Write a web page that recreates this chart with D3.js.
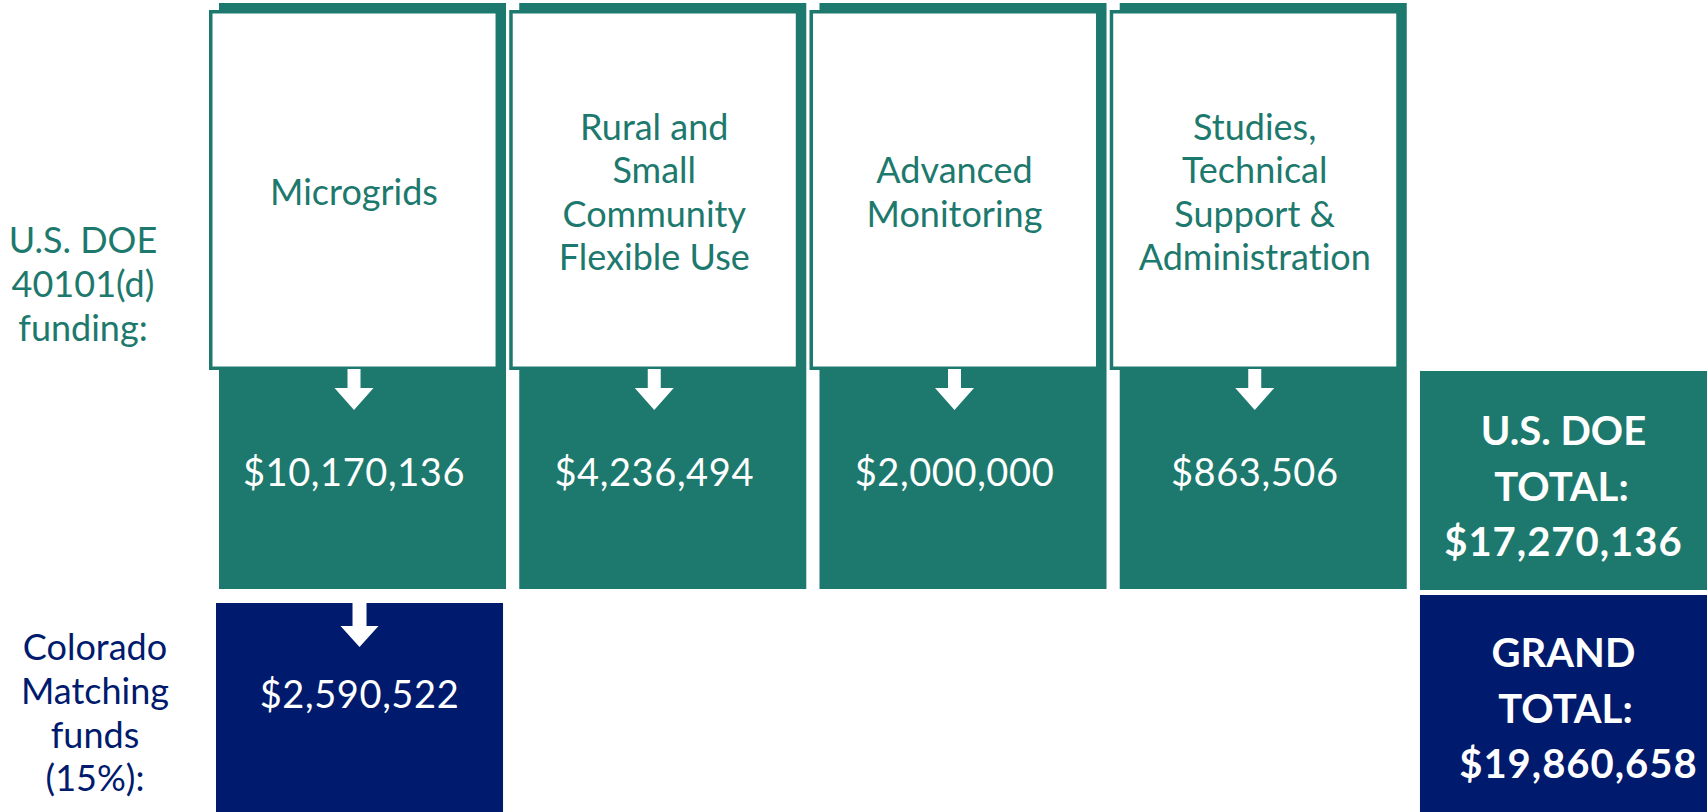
<!DOCTYPE html>
<html>
<head>
<meta charset="utf-8">
<script src="https://cdn.jsdelivr.net/npm/d3@7"></script>
<style>
  body { margin: 0; background: #fff; }
  svg { display: block; font-family: Lato, "Noto Sans", sans-serif; font-variant-ligatures: none; }
</style>
</head>
<body>
<svg></svg>
<script>
// program areas, top row
const categories = ['Microgrids', 'Rural and Small Community Flexible Use', 'Advanced Monitoring', 'Studies, Technical Support & Administration'];
const categoryLines = [
  ['Microgrids'],
  ['Rural and', 'Small', 'Community', 'Flexible Use'],
  ['Advanced', 'Monitoring'],
  ['Studies,', 'Technical', 'Support &', 'Administration']
];
const doeValues = [10170136, 4236494, 2000000, 863506];

// state match, only on microgrids
const matchCategories = ['Microgrids'];
const matchValues = [2590522];

const rowLabels = [
  ['U.S. DOE', '40101(d)', 'funding:'],
  ['Colorado', 'Matching', 'funds', '(15%):']
];

const width = 1708,
      height = 812,
      teal = '#1d796d',
      navy = '#001a6d',
      fmt = d3.format('$,');

const doeTotal = d3.sum(doeValues),
      grandTotal = doeTotal + d3.sum(matchValues);

const $svg = d3.select('svg')
  .attr('width', width)
  .attr('height', height);

const x = d3.scaleBand()
  .domain([...categories, 'total'])
  .range([219, 1707])
  .paddingInner(0.044);

const bw = x.bandwidth();

const y = {
  colTop: 3,
  boxTop: 10,
  boxBottom: 370,
  colBottom: 589,
  totalTop: 371,
  matchTop: 603,
  grandTop: 595,
  bottom: 812
};

const boxCenter = (c) => x(c) + bw / 2 - 8.5;

// green columns
$svg.selectAll('.col')
  .data(categories)
  .enter()
  .append('rect')
    .attr('class', 'col')
    .attr('x', (d) => x(d))
    .attr('y', y.colTop)
    .attr('width', bw)
    .attr('height', y.colBottom - y.colTop)
    .attr('fill', teal);

// white boxes with category names, sitting a bit left of the column
$svg.selectAll('.box')
  .data(categories)
  .enter()
  .append('rect')
    .attr('class', 'box')
    .attr('x', (d) => x(d) - 10 + 1.75)
    .attr('y', y.boxTop + 1.75)
    .attr('width', bw + 3 - 3.5)
    .attr('height', y.boxBottom - y.boxTop - 3.5)
    .attr('fill', '#fff')
    .attr('stroke', teal)
    .attr('stroke-width', 3.5);

const arrow = (cx, top, stemW, stemH, headW, headH) => {
  return `M${cx - stemW / 2},${top} L${cx + stemW / 2},${top} L${cx + stemW / 2},${top + stemH}`
    + ` L${cx + headW / 2},${top + stemH} L${cx},${top + stemH + headH} L${cx - headW / 2},${top + stemH}`
    + ` L${cx - stemW / 2},${top + stemH} Z`;
};

$svg.selectAll('.arrow')
  .data(categories)
  .enter()
  .append('path')
    .attr('class', 'arrow')
    .attr('d', (d) => arrow(boxCenter(d), y.boxBottom - 1, 13, 19, 39, 22))
    .attr('fill', '#fff');

const labels = $svg.selectAll('.cat')
  .data(categories)
  .enter()
  .append('text')
    .attr('class', 'cat')
    .attr('text-anchor', 'middle')
    .attr('fill', teal)
    .style('font-size', '36px');

labels.selectAll('tspan')
  .data((d, i) => categoryLines[i].map((line, j, arr) => ({ c: d, line, j, n: arr.length })))
  .enter()
  .append('tspan')
    .attr('x', (d) => boxCenter(d.c))
    .attr('y', (d) => 205 + (d.j - (d.n - 1) / 2) * 43.6)
    .text((d) => d.line);

$svg.selectAll('.val')
  .data(categories)
  .enter()
  .append('text')
    .attr('class', 'val')
    .attr('x', (d) => boxCenter(d))
    .attr('y', 486)
    .attr('text-anchor', 'middle')
    .attr('fill', '#fff')
    .style('font-size', '38px')
    .style('letter-spacing', '0.6px')
    .text((d, i) => fmt(doeValues[i]));

// matching funds
$svg.selectAll('.match')
  .data(matchCategories)
  .enter()
  .append('rect')
    .attr('class', 'match')
    .attr('x', (d) => x(d) - 3)
    .attr('y', y.matchTop)
    .attr('width', bw)
    .attr('height', y.bottom - y.matchTop)
    .attr('fill', navy);

$svg.selectAll('.match-arrow')
  .data(matchCategories)
  .enter()
  .append('path')
    .attr('class', 'match-arrow')
    .attr('d', (d) => arrow(x(d) - 3 + bw / 2, y.matchTop - 1, 14, 24, 38, 21))
    .attr('fill', '#fff');

$svg.selectAll('.match-val')
  .data(matchCategories)
  .enter()
  .append('text')
    .attr('class', 'match-val')
    .attr('x', (d) => x(d) - 3 + bw / 2)
    .attr('y', 708)
    .attr('text-anchor', 'middle')
    .attr('fill', '#fff')
    .style('font-size', '38px')
    .style('letter-spacing', '0.6px')
    .text((d, i) => fmt(matchValues[i]));

// totals column
const totals = [
  { top: y.totalTop, bottom: y.colBottom + 1, fill: teal, lines: ['U.S. DOE', 'TOTAL:', fmt(doeTotal)], base: 445, shift: [0, -2, 0] },
  { top: y.grandTop, bottom: y.bottom, fill: navy, lines: ['GRAND', 'TOTAL:', fmt(grandTotal)], base: 667, shift: [0, 2, 15] }
];

$svg.selectAll('.total')
  .data(totals)
  .enter()
  .append('rect')
    .attr('class', 'total')
    .attr('x', x('total'))
    .attr('y', (d) => d.top)
    .attr('width', bw)
    .attr('height', (d) => d.bottom - d.top)
    .attr('fill', (d) => d.fill);

$svg.selectAll('.total-text')
  .data(totals)
  .enter()
  .append('text')
    .attr('class', 'total-text')
    .attr('text-anchor', 'middle')
    .attr('fill', '#fff')
    .style('font-size', '40px')
    .style('font-weight', 'bold')
  .selectAll('tspan')
  .data((d) => d.lines.map((line, j) => ({ line, j, base: d.base, shift: d.shift[j] })))
  .enter()
  .append('tspan')
    .attr('x', (d) => x('total') + bw / 2 + d.shift)
    .attr('y', (d) => d.base + d.j * 55.5)
    .style('letter-spacing', (d) => d.j === 2 ? '1px' : null)
    .text((d) => d.line);

// row labels on the left
const rowBase = [253, 660],
      rowX = [83, 95],
      rowFill = [teal, navy];

$svg.selectAll('.row')
  .data(rowLabels)
  .enter()
  .append('text')
    .attr('class', 'row')
    .attr('text-anchor', 'middle')
    .attr('fill', (d, i) => rowFill[i])
    .style('font-size', '36px')
  .selectAll('tspan')
  .data((d, i) => d.map((line, j) => ({ line, j, i })))
  .enter()
  .append('tspan')
    .attr('x', (d) => rowX[d.i])
    .attr('y', (d) => rowBase[d.i] + d.j * 43.8)
    .text((d) => d.line);
</script>
</body>
</html>
